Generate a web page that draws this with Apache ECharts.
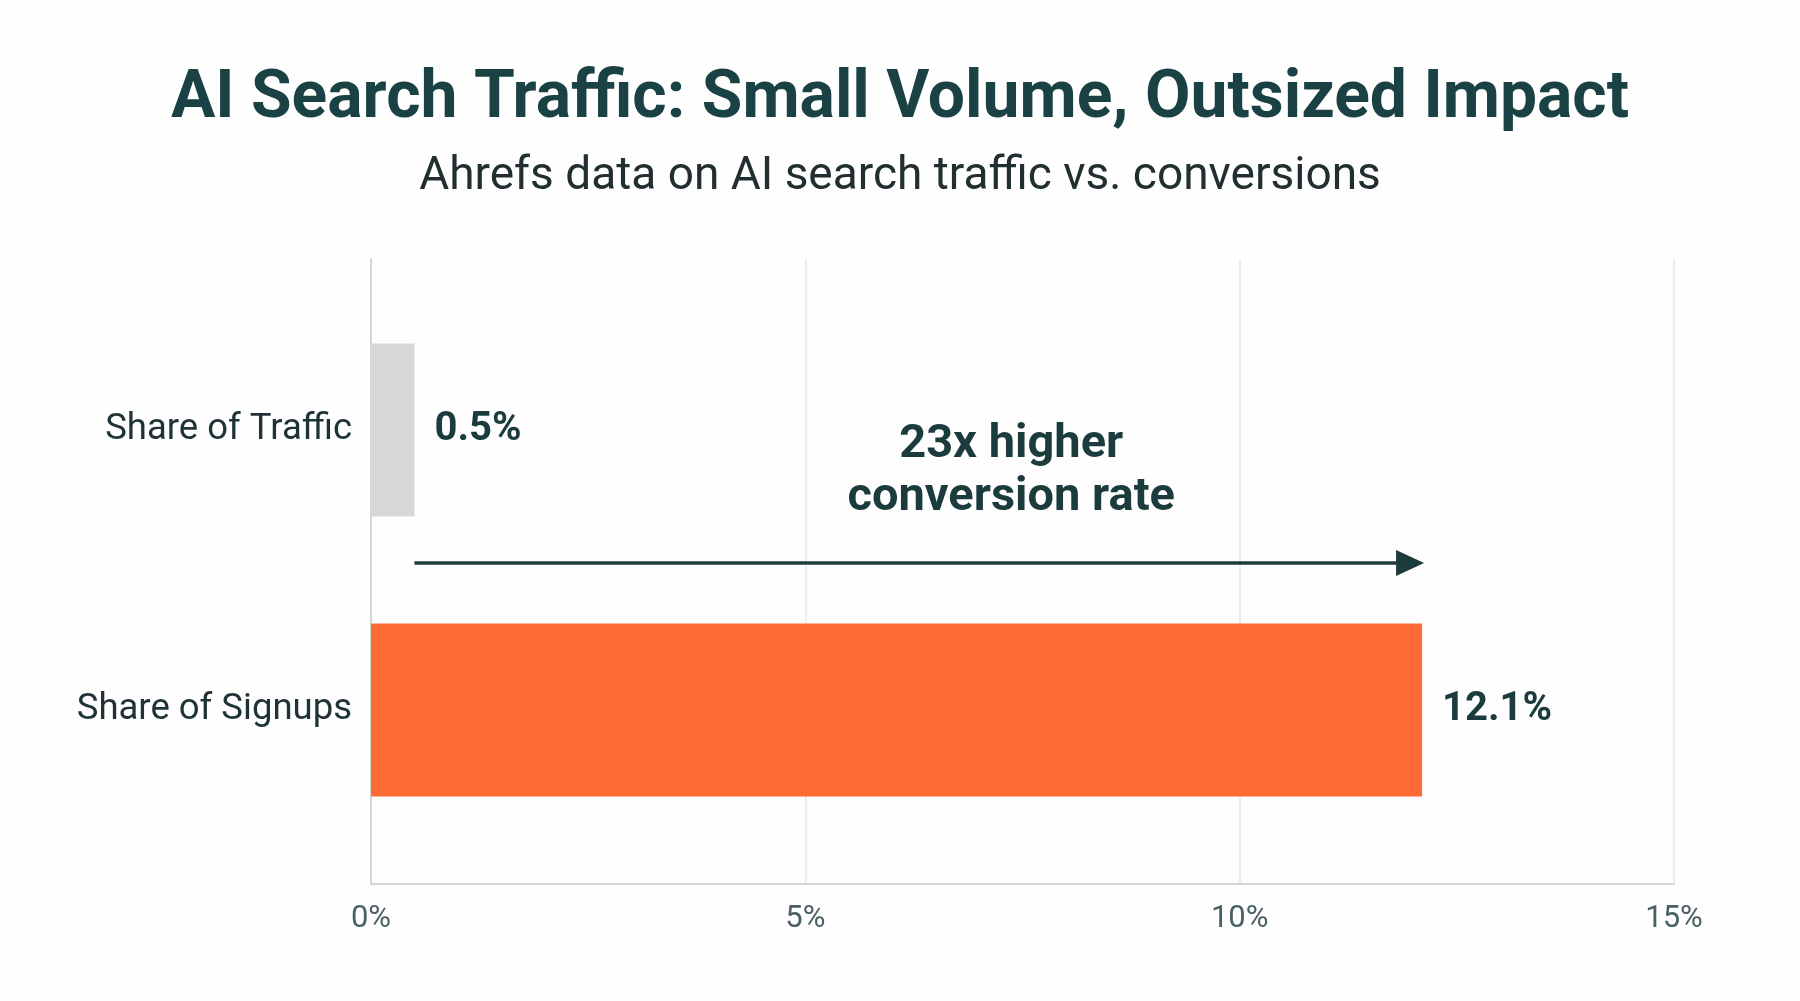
<!DOCTYPE html>
<html>
<head>
<meta charset="utf-8">
<script src="https://cdn.jsdelivr.net/npm/echarts@6/dist/echarts.min.js"></script>
<style>
  html, body { margin: 0; padding: 0; background: #fefefe; }
  #chart { width: 1800px; height: 1001px; }
</style>
</head>
<body>
<div id="chart"></div>
<script>
// data
var categories = ['Share of Traffic', 'Share of Signups'];
var values = [0.5, 12.1];
var barColors = ['#d5d7d8', '#ff6b35'];
var xTicks = [0, 5, 10, 15];
var note = ['23x higher', 'conversion rate'];

var teal = '#1c3b3d';
var myChart = echarts.init(document.getElementById('chart'));

var option = {
    backgroundColor: '#fefefe',
    title: {
        text: 'AI Search Traffic: Small Volume, Outsized Impact',
        subtext: 'Ahrefs data on AI search traffic vs. conversions',
        left: 'center',
        top: 56,
        itemGap: 12,
        textStyle: {fontFamily: 'Roboto', fontWeight: 'bold', fontSize: 66, lineHeight: 78, color: '#1a4143'},
        subtextStyle: {fontFamily: 'Roboto', fontSize: 46, lineHeight: 52, color: '#222f31'}
    },
    grid: [
        // grid lines + x axis
        {left: 371, right: 126, top: 259, bottom: 117},
        // bars
        {left: 371, right: 126, top: 290, bottom: 151}
    ],
    xAxis: [{
        type: 'value', gridIndex: 0,
        min: xTicks[0], max: xTicks[xTicks.length - 1], interval: 5,
        axisLine: {show: true, lineStyle: {color: '#d3d6d7', width: 2}},
        axisTick: {show: false},
        axisLabel: {formatter: '{value}%', margin: 20, fontFamily: 'Roboto', fontSize: 31, color: '#4a6063'},
        splitLine: {show: true, lineStyle: {color: '#e4e7e8', width: 1.5}}
    }, {
        type: 'value', gridIndex: 1,
        min: xTicks[0], max: xTicks[xTicks.length - 1], interval: 5,
        show: false
    }],
    yAxis: [{
        type: 'category', gridIndex: 0, data: categories,
        axisLine: {show: true, lineStyle: {color: '#d3d6d7', width: 2}},
        axisTick: {show: false}, axisLabel: {show: false}, splitLine: {show: false}
    }, {
        type: 'category', gridIndex: 1, data: categories, inverse: true,
        axisLine: {show: false}, axisTick: {show: false},
        axisLabel: {margin: 19, fontFamily: 'Roboto', fontSize: 36.5, color: '#1f3336'}
    }],
    series: [{
        type: 'bar',
        xAxisIndex: 1,
        yAxisIndex: 1,
        barWidth: 173,
        data: values.map(function (v, i) {
            return {value: v, itemStyle: {color: barColors[i]}};
        }),
        label: {
            show: true,
            position: 'right',
            distance: 20,
            formatter: '{c}%',
            fontFamily: 'Roboto',
            fontWeight: 'bold',
            fontSize: 40,
            color: teal
        }
    }]
};
myChart.setOption(option);

// arrow from traffic value to signups value, between the two bars
var pTop = myChart.convertToPixel({xAxisIndex: 1, yAxisIndex: 1}, [values[0], 0]);
var pBot = myChart.convertToPixel({xAxisIndex: 1, yAxisIndex: 1}, [values[1], 1]);
var arrowY = pTop[1] + (pBot[1] - pTop[1]) * 0.475;
var x0 = pTop[0], x1 = pBot[0];
var noteX = myChart.convertToPixel({xAxisIndex: 1}, 7.37);

myChart.setOption({
    graphic: [{
        type: 'line',
        shape: {x1: x0, y1: arrowY, x2: x1 - 20, y2: arrowY},
        style: {stroke: teal, lineWidth: 3.5}
    }, {
        type: 'polygon',
        shape: {points: [[x1 - 26, arrowY - 13], [x1 + 2, arrowY], [x1 - 26, arrowY + 13]]},
        style: {fill: teal}
    }, {
        type: 'text',
        x: noteX,
        y: arrowY - 91,
        style: {
            text: note.join('\n'),
            fontFamily: 'Roboto',
            fontWeight: 'bold',
            fontSize: 47,
            lineHeight: 53,
            fill: teal,
            align: 'center',
            verticalAlign: 'middle'
        }
    }]
});
</script>
</body>
</html>
